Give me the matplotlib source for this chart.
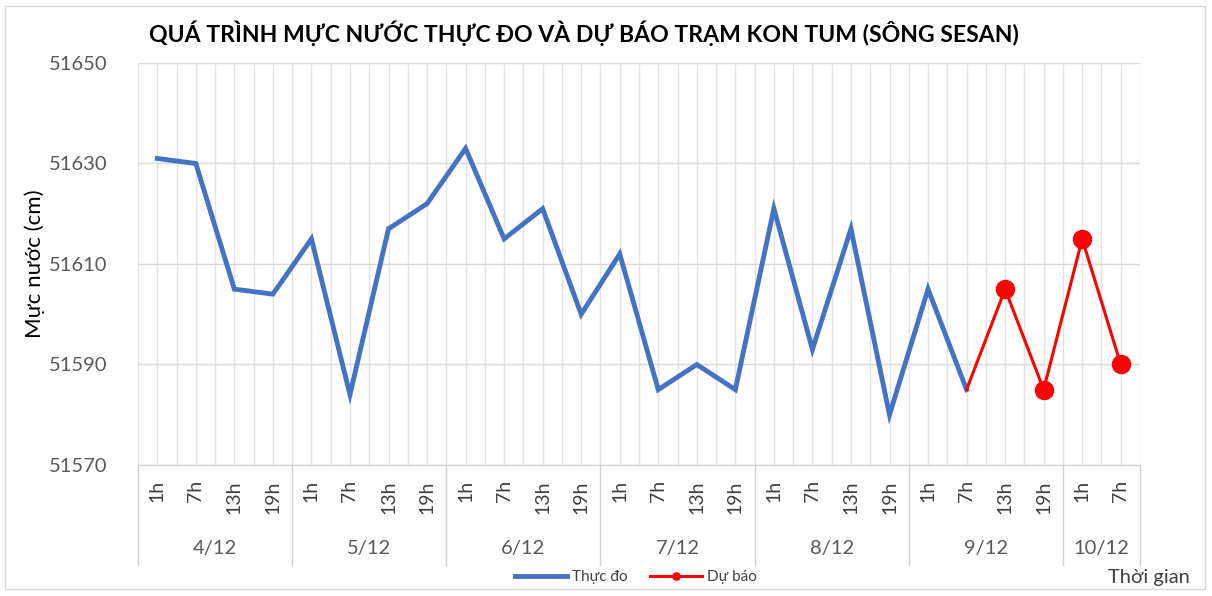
import numpy as np
import matplotlib.pyplot as plt
from matplotlib.patches import Rectangle
from matplotlib.transforms import blended_transform_factory

plt.rcParams['font.family'] = ['Lato', 'DejaVu Sans']

# data
days = ['4/12', '5/12', '6/12', '7/12', '8/12', '9/12', '10/12']
hours_per_day = [4, 4, 4, 4, 4, 4, 2]
hour_labels = ['1h', '7h', '13h', '19h']

observed = [51631, 51630, 51605, 51604,
            51615, 51584, 51617, 51622,
            51633, 51615, 51621, 51600,
            51612, 51585, 51590, 51585,
            51621, 51593, 51617, 51580,
            51605, 51585]
forecast = [51585, 51605, 51585, 51615, 51590]   # from 9/12 7h to 10/12 7h
forecast_start = 21

ticks = []
for n in hours_per_day:
    ticks += hour_labels[:n]
x = np.arange(len(ticks))

fig = plt.figure(figsize=(12.12, 5.96), dpi=100)
ax = fig.add_axes([138 / 1212, 1 - 465 / 596, (1140 - 138) / 1212, (465 - 63) / 596])

ax.plot(x[:len(observed)], observed, color='#4472C4', lw=3.5, label='Thực đo',
        solid_joinstyle='miter', zorder=3)
xf = x[forecast_start:forecast_start + len(forecast)]
ax.plot(xf, forecast, color='#FF0000', lw=2.2, zorder=4, label='Dự báo',
        marker='o', markersize=13, markevery=list(range(1, len(forecast))))

ax.set_xlim(-0.5, len(ticks) - 0.5)
ax.set_ylim(51570, 51650)
ax.set_yticks(np.arange(51570, 51651, 20))
ax.set_xticks(x)
ax.set_xticklabels(ticks, rotation=90, fontsize=14, color='#404040')
ax.set_xticks(np.arange(-0.5, len(ticks), 1), minor=True)
ax.tick_params(axis='x', which='both', length=0, pad=11)
ax.tick_params(axis='y', length=0, labelsize=14.5, labelcolor='#595959', pad=22)

ax.grid(axis='y', color='#D9D9D9', lw=1)
ax.grid(axis='x', which='both', color='#E3E3E3', lw=1)
ax.set_axisbelow(True)
for s in ['top', 'right', 'left']:
    ax.spines[s].set_visible(False)
ax.spines['bottom'].set_color('#D0D0D0')

ax.set_ylabel('Mực nước (cm)', fontsize=16, color='#000000', labelpad=3)

# day groups under the hour labels
trans = blended_transform_factory(ax.transData, ax.transAxes)
edges = np.concatenate([[0], np.cumsum(hours_per_day)]) - 0.5
for e in edges:
    ax.plot([e, e], [0, -0.249], transform=trans, color='#D0D0D0', lw=1, clip_on=False)
for d, a, b in zip(days, edges[:-1], edges[1:]):
    ax.text((a + b) / 2, -0.2065, d, transform=trans, ha='center', va='center',
            fontsize=14.5, color='#595959')

fig.text(149 / 1212, 1 - 33 / 596, 'QUÁ TRÌNH MỰC NƯỚC THỰC ĐO VÀ DỰ BÁO TRẠM KON TUM (SÔNG SESAN)',
         ha='left', va='center', fontsize=16.6, fontweight='bold', color='#000000')
fig.text(1190 / 1212, 1 - 578 / 596, 'Thời gian', ha='right', va='center',
         fontsize=14.5, color='#404040')

fig.legend(loc='center', bbox_to_anchor=(636 / 1212, 1 - 577 / 596), ncol=2, frameon=False,
           fontsize=11, handlelength=3.4, columnspacing=1.5, handletextpad=0.3,
           labelcolor='#404040', markerscale=0.4)

fig.patches.append(Rectangle((5 / 1212, 7 / 596), 1200 / 1212, 583 / 596, transform=fig.transFigure,
                             fill=False, edgecolor='#D9D9D9', lw=1))

fig.savefig('out.png', dpi=100)
